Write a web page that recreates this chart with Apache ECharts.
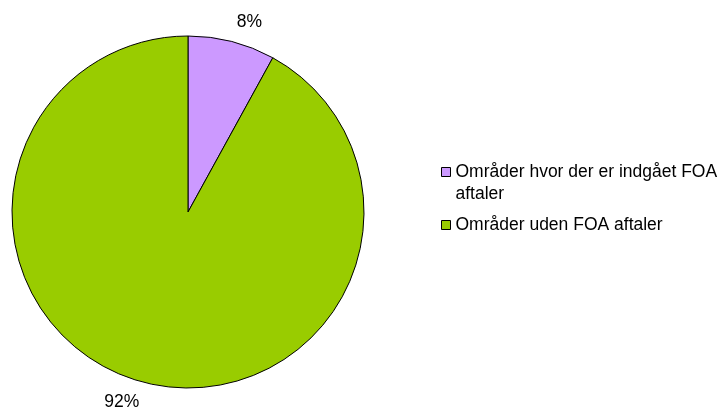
<!DOCTYPE html>
<html>
<head>
<meta charset="utf-8">
<script src="https://cdn.jsdelivr.net/npm/echarts@6/dist/echarts.min.js"></script>
<style>
html,body{margin:0;padding:0;background:#fff;}
#chart{width:722px;height:412px;}
</style>
</head>
<body>
<div id="chart"></div>
<script>
var categories = ['Områder hvor der er indgået FOA aftaler', 'Områder uden FOA aftaler'];
var values = [8, 92];
var colors = ['#CC99FF', '#99CC00'];

var FONT = '"Liberation Sans", Arial, sans-serif';
var chart = echarts.init(document.getElementById('chart'), null, {renderer: 'canvas'});
chart.setOption({
  animation: false,
  backgroundColor: '#ffffff',
  legend: {
    orient: 'vertical',
    left: 436,
    top: 134,
    itemWidth: 9,
    itemHeight: 9,
    itemGap: 9,
    icon: 'rect',
    selectedMode: false,
    itemStyle: {borderColor: '#000', borderWidth: 1},
    textStyle: {fontFamily: FONT, fontSize: 17.5, color: '#000', lineHeight: 22},
    formatter: function (name) {
      return name === categories[0] ? '\n' + name.replace(/ aftaler$/, '\naftaler') : name;
    },
    data: categories
  },
  series: [{
    type: 'pie',
    center: [188, 212],
    radius: 176,
    startAngle: 90,
    clockwise: true,
    avoidLabelOverlap: false,
    silent: true,
    itemStyle: {borderColor: '#000', borderWidth: 1},
    label: {
      show: true,
      position: 'outside',
      fontFamily: FONT,
      fontSize: 17.5,
      color: '#000',
      distanceToLabelLine: 0,
      formatter: function (p) { return Math.round(p.percent) + '%'; }
    },
    labelLine: {show: false, length: 20, length2: 0},
    data: categories.map(function (c, i) {
      return {name: c, value: values[i], itemStyle: {color: colors[i]}};
    })
  }]
});
</script>
</body>
</html>
